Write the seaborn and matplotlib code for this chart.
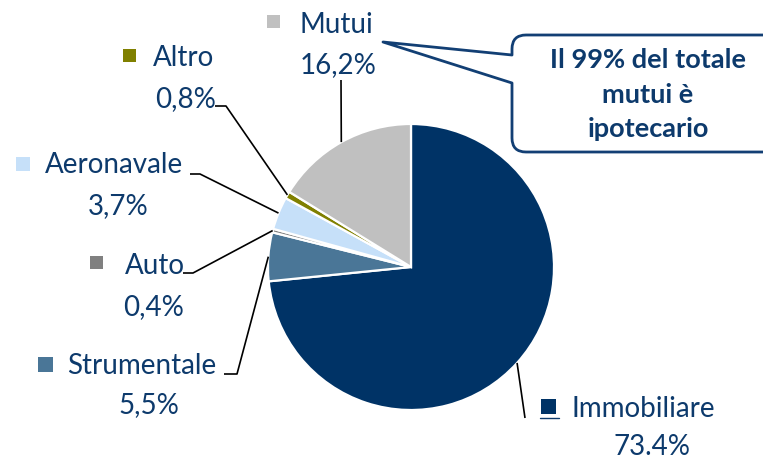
import numpy as np
import matplotlib
matplotlib.use("Agg")
import matplotlib.pyplot as plt
from matplotlib.patches import PathPatch, Rectangle
from matplotlib.path import Path
import seaborn as sns

# Portfolio breakdown by product line
categories = ["Immobiliare", "Strumentale", "Auto", "Aeronavale", "Altro", "Mutui"]
shares = [73.4, 5.5, 0.4, 3.7, 0.8, 16.2]
share_labels = ["73.4%", "5,5%", "0,4%", "3,7%", "0,8%", "16,2%"]
slice_colors = ["#003366", "#4A7697", "#808080", "#C6E0F9", "#808000", "#C0C0C0"]
callout_lines = ["Il 99% del totale", "mutui è", "ipotecario"]

W, H = 763, 459
TEXT = "#0D3A6C"

sns.set_theme(style="white")
plt.rcParams["font.family"] = ["Lato", "DejaVu Sans"]

fig = plt.figure(figsize=(W / 100, H / 100), dpi=100)
ax = fig.add_axes([0, 0, 1, 1])


def P(x, y):
    """Layout position given from the top-left corner, in pixels."""
    return (x, H - y)


cx, cy, R = 411, 267, 143
explode = [0.012, 0.045, 0.045, 0.045, 0.045, 0.02]
palette = sns.color_palette(slice_colors)
wedges, _ = ax.pie(shares, colors=palette, startangle=90, counterclock=False,
                   center=P(cx, cy), radius=R, explode=explode,
                   wedgeprops=dict(edgecolor="white", linewidth=1.6))
ax.set_xlim(0, W)
ax.set_ylim(0, H)
ax.set_aspect("equal")
ax.axis("off")

# label placement: key square (x, y, size), name (left, baseline),
# value (centre, baseline), leader route after leaving the wedge
layout = {
    "Immobiliare": dict(sq=(541, 399, 15), name=(572, 417), pct=(652, 455),
                        route=[(525, 418)], extra=[(540, 418), (559, 418)]),
    "Strumentale": dict(sq=(38, 357, 15), name=(67, 374), pct=(149, 413),
                        route=[(237, 374), (224, 374)]),
    "Auto": dict(sq=(90, 256, 13), name=(125, 274), pct=(154, 315),
                 route=[(193, 273), (183, 273)]),
    "Aeronavale": dict(sq=(16, 157, 14), name=(45, 173), pct=(118, 214),
                       route=[(200, 174), (190, 174)]),
    "Altro": dict(sq=(123, 49, 13), name=(153, 66), pct=(186, 107),
                  route=[(226, 106), (215, 106)]),
    "Mutui": dict(sq=(267, 15, 13), name=(300, 33), pct=(338, 73),
                  route=[(341, 80)]),
}

for w, cat, lab, col in zip(wedges, categories, share_labels, palette):
    lay = layout[cat]
    mid = np.deg2rad((w.theta1 + w.theta2) / 2)
    sx = w.center[0] + w.r * np.cos(mid)
    sy = w.center[1] + w.r * np.sin(mid)
    pts = [(sx, sy)] + [P(*p) for p in lay["route"]]
    xs, ys = zip(*pts)
    ax.plot(xs, ys, color="black", lw=1.2, solid_capstyle="butt")
    if "extra" in lay:
        xs, ys = zip(*[P(*p) for p in lay["extra"]])
        ax.plot(xs, ys, color=TEXT, lw=1.0)
    qx, qy, qs = lay["sq"]
    ax.add_patch(Rectangle(P(qx, qy + qs), qs, qs, facecolor=col, edgecolor="none"))
    ax.text(*P(*lay["name"]), cat, fontsize=20, color=TEXT, ha="left", va="baseline")
    ax.text(*P(*lay["pct"]), lab, fontsize=20, color=TEXT, ha="center", va="baseline")

# speech-bubble callout pointing at the Mutui label
L, T, B, Rr, r = 512, 35, 152, 800, 14
tip = (383, 42)
verts = [tip, (L, 55), (L, T + r), (L, T), (L + r, T), (Rr, T), (Rr, B),
         (L + r, B), (L, B), (L, B - r), (L, 83), tip]
codes = [Path.MOVETO, Path.LINETO, Path.LINETO, Path.CURVE3, Path.CURVE3,
         Path.LINETO, Path.LINETO, Path.LINETO, Path.CURVE3, Path.CURVE3,
         Path.LINETO, Path.CLOSEPOLY]
bubble = PathPatch(Path([P(*v) for v in verts], codes), facecolor="white",
                   edgecolor="#123F74", lw=2.0, joinstyle="round")
ax.add_patch(bubble)
for line, base in zip(callout_lines, [68, 103, 137]):
    ax.text(*P(648, base), line, fontsize=19.5, fontweight="bold", color=TEXT,
            ha="center", va="baseline")

fig.savefig("out.png", dpi=100)
